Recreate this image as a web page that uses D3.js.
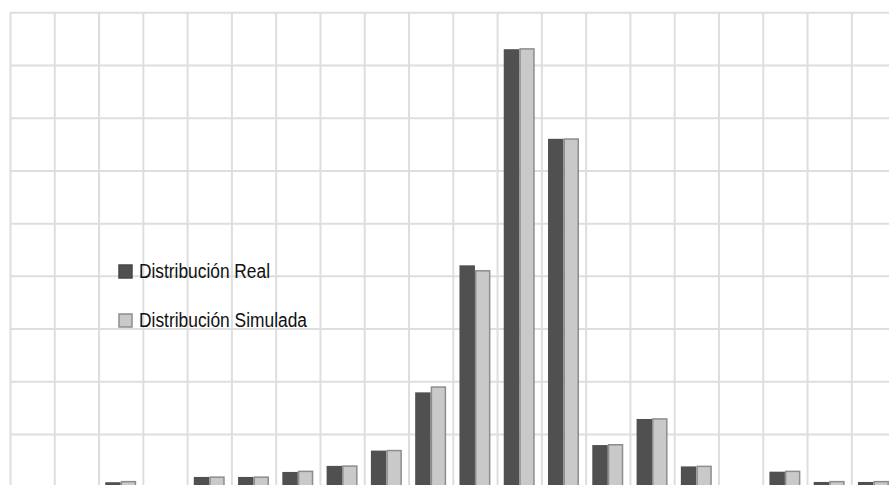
<!DOCTYPE html>
<html>
<head>
<meta charset="utf-8">
<script src="https://cdn.jsdelivr.net/npm/d3@7/dist/d3.min.js"></script>
<style>
  html, body { margin: 0; padding: 0; background: #fff; overflow: hidden; }
  svg { display: block; }
</style>
</head>
<body>
<svg id="chart" width="889" height="485"></svg>
<script>
// ---- data (y unit = % , one grid step = 2) ----
const categories = ["1","2","3","4","5","6","7","8","9","10","11","12","13","14","15","16","17","18","19","20"];
const seriesNames = ["Distribución Real", "Distribución Simulada"];
const realValues = [0, 0, 0.17, 0, 0.37, 0.37, 0.56, 0.79, 1.37, 3.58, 8.40, 16.60, 13.20, 1.58, 2.57, 0.77, 0, 0.57, 0.18, 0.18];
const simValues  = [0, 0, 0.22, 0, 0.39, 0.39, 0.61, 0.81, 1.40, 3.81, 8.22, 16.64, 13.22, 1.62, 2.60, 0.80, 0, 0.61, 0.22, 0.22];
const yTicks = [0, 2, 4, 6, 8, 10, 12, 14, 16, 18];

const svg = d3.select("#chart");
const pLeft = 10, pRight = 895.6, pTop = 12.3, pBottom = 486.7;

const x = d3.scaleBand().domain(categories).range([pLeft, pRight]).paddingInner(0).paddingOuter(0);
const xs = d3.scaleBand().domain(seriesNames).range([0, x.bandwidth()]).paddingInner(0).paddingOuter(0.43);
const y = d3.scaleLinear().domain([0, 18]).range([pBottom, pTop]);

const gridColor = "#dedede";

// horizontal grid via axis
const gy = svg.append("g").attr("transform", `translate(${pLeft},0)`)
  .call(d3.axisLeft(y).tickValues(yTicks).tickSize(-(pRight - pLeft)).tickFormat(""));
gy.select(".domain").remove();
gy.selectAll(".tick line").attr("stroke", gridColor).attr("stroke-width", 2);

// vertical grid via axis (category boundaries)
const bounds = categories.map(c => x(c)).concat([pRight]);
const xb = d3.scaleLinear().domain([pLeft, pRight]).range([pLeft, pRight]);
const gx = svg.append("g").attr("transform", `translate(0,${pTop})`)
  .call(d3.axisBottom(xb).tickValues(bounds).tickSize(pBottom - pTop + 5).tickFormat(""));
gx.select(".domain").remove();
gx.selectAll(".tick line").attr("stroke", gridColor).attr("stroke-width", 2);

// bars
const rows = categories.map((c, i) => ({ c, vals: [realValues[i], simValues[i]] }));
const styles = [
  { fill: "#505050", stroke: "#474747" },
  { fill: "#c9c9c9", stroke: "#8d8d8d" }
];
const groups = svg.append("g").selectAll("g").data(rows).join("g")
  .attr("transform", d => `translate(${x(d.c)},0)`);
groups.selectAll("rect")
  .data(d => d.vals.map((v, k) => ({ v, k })).filter(e => e.v > 0))
  .join("rect")
  .attr("x", e => xs(seriesNames[e.k]) + (e.k === 1 ? 0.75 : 0))
  .attr("width", e => xs.bandwidth() - (e.k === 1 ? 1.5 : 0))
  .attr("y", e => y(e.v) + (e.k === 1 ? 0.75 : 0))
  .attr("height", e => pBottom - y(e.v) + 5)
  .attr("fill", e => styles[e.k].fill)
  .attr("stroke", e => e.k === 1 ? styles[e.k].stroke : "none")
  .attr("stroke-width", 1.5);

// legend
const legend = svg.append("g");
const legY = [265, 314];
const legLen = [131, 168];
seriesNames.forEach((name, k) => {
  legend.append("rect")
    .attr("x", 119).attr("y", legY[k]).attr("width", 13).attr("height", 13)
    .attr("fill", styles[k].fill)
    .attr("stroke", k === 1 ? styles[k].stroke : "#474747").attr("stroke-width", 1.5);
  legend.append("text")
    .attr("x", 139).attr("y", legY[k] + 13.3)
    .attr("font-family", "'Liberation Sans', Arial, sans-serif")
    .attr("font-size", 19.5)
    .attr("textLength", legLen[k])
    .attr("lengthAdjust", "spacingAndGlyphs")
    .attr("fill", "#111")
    .text(name);
});
</script>
</body>
</html>
